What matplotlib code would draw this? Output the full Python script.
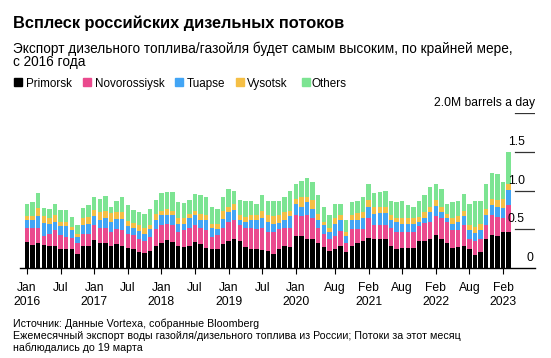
import numpy as np
import matplotlib
matplotlib.use("Agg")
import matplotlib.pyplot as plt
from matplotlib.patches import Rectangle

# Monthly diesel/gasoil exports, million barrels a day, Jan 2016 .. Mar 2023
months = [f"{y}-{m:02d}" for y in range(2016, 2024) for m in range(1, 13)][:87]

primorsk = [0.34, 0.30, 0.32, 0.30, 0.29, 0.28, 0.24, 0.25, 0.25, 0.18, 0.28, 0.29,
            0.36, 0.32, 0.32, 0.28, 0.31, 0.29, 0.26, 0.25, 0.21, 0.19, 0.22, 0.28,
            0.32, 0.36, 0.33, 0.28, 0.27, 0.29, 0.33, 0.31, 0.26, 0.24, 0.25, 0.31,
            0.35, 0.37, 0.35, 0.27, 0.25, 0.24, 0.23, 0.22, 0.18, 0.25, 0.29, 0.27,
            0.41, 0.41, 0.38, 0.38, 0.32, 0.27, 0.22, 0.24, 0.29, 0.21, 0.29, 0.32,
            0.35, 0.39, 0.38, 0.38, 0.38, 0.29, 0.25, 0.26, 0.26, 0.26, 0.35, 0.35,
            0.37, 0.42, 0.38, 0.32, 0.26, 0.27, 0.28, 0.24, 0.17, 0.21, 0.38, 0.42,
            0.41, 0.47, 0.47]
novorossiysk = [0.18, 0.22, 0.20, 0.11, 0.15, 0.21, 0.18, 0.15, 0.14, 0.14, 0.16, 0.15,
                0.20, 0.19, 0.19, 0.18, 0.19, 0.20, 0.18, 0.17, 0.16, 0.16, 0.18, 0.22,
                0.23, 0.21, 0.23, 0.19, 0.22, 0.23, 0.22, 0.21, 0.23, 0.16, 0.17, 0.21,
                0.24, 0.25, 0.20, 0.25, 0.27, 0.26, 0.29, 0.25, 0.29, 0.25, 0.23, 0.25,
                0.27, 0.26, 0.30, 0.26, 0.20, 0.17, 0.15, 0.17, 0.19, 0.11, 0.21, 0.18,
                0.15, 0.26, 0.17, 0.17, 0.17, 0.23, 0.22, 0.21, 0.21, 0.21, 0.19, 0.23,
                0.22, 0.25, 0.26, 0.27, 0.23, 0.22, 0.27, 0.14, 0.18, 0.17, 0.18, 0.26,
                0.25, 0.18, 0.34]
tuapse = [0.10, 0.10, 0.15, 0.17, 0.13, 0.11, 0.12, 0.14, 0.10, 0.08, 0.11, 0.13,
          0.11, 0.11, 0.14, 0.14, 0.13, 0.14, 0.10, 0.09, 0.11, 0.09, 0.10, 0.12,
          0.13, 0.12, 0.12, 0.10, 0.08, 0.13, 0.13, 0.10, 0.13, 0.11, 0.08, 0.11,
          0.13, 0.13, 0.07, 0.07, 0.10, 0.12, 0.12, 0.12, 0.10, 0.08, 0.10, 0.15,
          0.14, 0.12, 0.17, 0.12, 0.10, 0.11, 0.10, 0.16, 0.14, 0.09, 0.12, 0.12,
          0.14, 0.14, 0.15, 0.16, 0.16, 0.10, 0.12, 0.10, 0.10, 0.10, 0.05, 0.07,
          0.13, 0.13, 0.08, 0.06, 0.08, 0.10, 0.12, 0.11, 0.10, 0.11, 0.12, 0.13,
          0.13, 0.13, 0.20]
vysotsk = [0.05, 0.05, 0.10, 0.09, 0.07, 0.09, 0.06, 0.06, 0.04, 0.04, 0.09, 0.09,
           0.08, 0.10, 0.09, 0.11, 0.09, 0.09, 0.07, 0.07, 0.07, 0.08, 0.05, 0.08,
           0.06, 0.07, 0.06, 0.07, 0.07, 0.05, 0.06, 0.08, 0.07, 0.06, 0.07, 0.10,
           0.07, 0.07, 0.06, 0.07, 0.06, 0.06, 0.10, 0.09, 0.10, 0.11, 0.10, 0.07,
           0.07, 0.12, 0.07, 0.12, 0.08, 0.04, 0.05, 0.07, 0.06, 0.06, 0.06, 0.09,
           0.08, 0.09, 0.09, 0.08, 0.08, 0.06, 0.06, 0.08, 0.07, 0.07, 0.07, 0.07,
           0.07, 0.08, 0.07, 0.05, 0.07, 0.08, 0.07, 0.06, 0.08, 0.08, 0.08, 0.08,
           0.09, 0.11, 0.08]
others = [0.15, 0.18, 0.20, 0.10, 0.12, 0.14, 0.15, 0.15, 0.13, 0.12, 0.13, 0.15,
          0.16, 0.17, 0.19, 0.08, 0.15, 0.19, 0.20, 0.17, 0.17, 0.18, 0.21, 0.18,
          0.23, 0.22, 0.24, 0.21, 0.20, 0.18, 0.22, 0.24, 0.22, 0.22, 0.19, 0.18,
          0.23, 0.18, 0.20, 0.21, 0.18, 0.15, 0.20, 0.19, 0.19, 0.18, 0.19, 0.25,
          0.19, 0.21, 0.24, 0.23, 0.24, 0.20, 0.17, 0.18, 0.15, 0.15, 0.17, 0.16,
          0.19, 0.20, 0.18, 0.19, 0.20, 0.18, 0.20, 0.22, 0.17, 0.15, 0.21, 0.22,
          0.26, 0.21, 0.23, 0.13, 0.21, 0.19, 0.21, 0.27, 0.33, 0.29, 0.33, 0.34,
          0.33, 0.22, 0.41]

series_names = ["Primorsk", "Novorossiysk", "Tuapse", "Vysotsk", "Others"]
colors = ["#000000", "#EA4A8E", "#42A5F5", "#F5BF45", "#7CE492"]

tick_pos = [0, 6, 12, 18, 24, 30, 36, 42, 48, 55, 61, 67, 73, 79, 85]
tick_labels = ["Jan\n2016", "Jul", "Jan\n2017", "Jul", "Jan\n2018", "Jul",
               "Jan\n2019", "Jul", "Jan\n2020", "Aug", "Feb\n2021", "Aug",
               "Feb\n2022", "Aug", "Feb\n2023"]
y_levels = [0.5, 1.0, 1.5, 2.0]
y_labels = ["0.5", "1.0", "1.5", "2.0M barrels a day"]

plt.rcParams['font.family'] = ['Liberation Sans', 'DejaVu Sans']

W, H = 551, 358
fig = plt.figure(figsize=(W / 100, H / 100), dpi=100)

def fx(px):
    return px / W

def fy(py):
    return 1 - py / H

# axes: x from 20px to 535px, y=0 at 268px, y=2.0 at 113px
ax = fig.add_axes([fx(20), fy(268), fx(535) - fx(20), (268 - 113) / H])
x = np.arange(len(primorsk))
bottom = np.zeros(len(x))
for vals, name, c in zip([primorsk, novorossiysk, tuapse, vysotsk, others], series_names, colors):
    vals = np.array(vals)
    ax.bar(x, vals, bottom=bottom, width=0.78, color=c, linewidth=0)
    bottom += vals

ax.set_xlim((20 - 27) / 5.6, (535 - 27) / 5.6)
ax.set_ylim(0, 2.0)
for s in ["top", "right", "left"]:
    ax.spines[s].set_visible(False)
ax.spines["bottom"].set_linewidth(1.0)
ax.set_yticks([])
ax.set_xticks(tick_pos)
ax.set_xticklabels(tick_labels, fontsize=8.7, linespacing=1.25)
ax.tick_params(axis="x", length=4, width=0.8, pad=6)

# short right-side gridlines with labels above them
gx0 = (515 - 20) / 515
for lvl, lab in zip(y_levels, y_labels):
    ax.axhline(lvl, xmin=gx0, xmax=1.0, color="#333333", lw=0.9)
    xr = 1.0 if lvl == 2.0 else 0.98
    ax.annotate(lab, xy=(xr, lvl), xycoords=("axes fraction", "data"),
                xytext=(0, 5), textcoords="offset points",
                ha="right", va="baseline", fontsize=8.7)
ax.annotate("0", xy=(0.997, 0), xycoords=("axes fraction", "data"),
            xytext=(0, 5), textcoords="offset points",
            ha="right", va="baseline", fontsize=8.7)

# titles
fig.text(fx(13), fy(28), "Всплеск российских дизельных потоков",
         fontsize=11.8, fontweight="bold", va="baseline")
fig.text(fx(13), fy(53), "Экспорт дизельного топлива/газойля будет самым высоким, по крайней мере,",
         fontsize=9.8, va="baseline")
fig.text(fx(13), fy(66), "с 2016 года", fontsize=9.8, va="baseline")

# legend
leg_sq = [14, 83, 175, 236, 302]
leg_tx = [26, 95, 187, 247, 312]
for sq, tx, name, c in zip(leg_sq, leg_tx, series_names, colors):
    fig.patches.append(Rectangle((fx(sq), fy(86)), 8 / W, 8 / H, color=c,
                                 transform=fig.transFigure, figure=fig))
    fig.text(fx(tx), fy(87), name, fontsize=8.4, va="baseline")

# footer
fig.text(fx(13), fy(327), "Источник: Данные Vortexa, собранные Bloomberg",
         fontsize=7.7, va="baseline")
fig.text(fx(13), fy(339), "Ежемесячный экспорт воды газойля/дизельного топлива из России; Потоки за этот месяц",
         fontsize=7.7, va="baseline")
fig.text(fx(13), fy(351), "наблюдались до 19 марта", fontsize=7.7, va="baseline")

fig.savefig("out.png", dpi=100)
